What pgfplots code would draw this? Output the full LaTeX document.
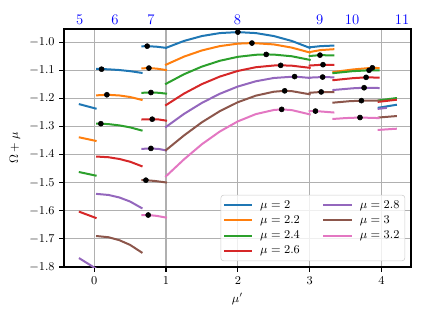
\documentclass[border=0pt]{standalone}
\usepackage{pgfplots}
\pgfplotsset{compat=1.18}
\definecolor{c0}{HTML}{1F77B4}
\definecolor{c1}{HTML}{FF7F0E}
\definecolor{c2}{HTML}{2CA02C}
\definecolor{c3}{HTML}{D62728}
\definecolor{c4}{HTML}{9467BD}
\definecolor{c5}{HTML}{8C564B}
\definecolor{c6}{HTML}{E377C2}
\definecolor{gridc}{HTML}{B0B0B0}
\tikzset{toplab/.style={text=blue, anchor=base, font=\fontsize{11}{13}\selectfont, inner sep=0pt, yshift=3.75pt}}
\begin{document}
\begin{tikzpicture}
\path (-48pt,-39pt) rectangle (270.75pt,200.25pt);
\begin{axis}[
  at={(0pt,0pt)}, anchor=south west,
  scale only axis, width=260.25pt, height=178.5pt,
  xmin=-0.42, xmax=4.41, ymin=-1.8, ymax=-0.953,
  xtick={0,1,2,3,4},
  ytick={-1.8,-1.7,-1.6,-1.5,-1.4,-1.3,-1.2,-1.1,-1.0},
  grid=major, grid style={line width=0.8pt, draw=gridc},
  axis line style={line width=0.8pt},
  tick align=outside, tick pos=left,
  major tick length=3.5pt, every tick/.style={black, line width=0.8pt},
  ticklabel style={font=\small},
  yticklabel style={/pgf/number format/.cd, fixed, fixed zerofill, precision=1},
  xlabel={$\mu'$}, ylabel={$\Omega+\mu$}, label style={font=\small},
  clip mode=individual,
  legend columns=2, legend cell align=left,
  legend style={at={(rel axis cs:0.983,0.025)}, anchor=south east, font=\small,
    draw=black!20, rounded corners=2pt, fill=white, fill opacity=0.8, text opacity=1,
    column sep=4pt, row sep=0pt, inner sep=2pt,
    /tikz/every even column/.append style={column sep=15.5pt}},
  legend image code/.code={\draw[#1, line width=1.5pt] (0pt,0pt) -- (20pt,0pt);},
  every axis plot/.append style={line width=1.5pt, line cap=rect, line join=round},
]
% ---------- mu = 2 (blue)
\addplot[c0, forget plot] coordinates {(-0.2,-1.221) (0.02,-1.236)};
\addplot[c0, forget plot] coordinates {(0.04,-1.095) (0.1,-1.0955) (0.2,-1.0965) (0.35,-1.099) (0.5,-1.103) (0.66,-1.109)};
\addplot[c0, forget plot] coordinates {(0.67,-1.0145) (0.74,-1.014) (0.87,-1.016) (1.0,-1.020)};
\addplot[c0, forget plot] coordinates {(1,-1.020) (1.25,-0.9955) (1.5,-0.978) (1.75,-0.9675) (2,-0.964) (2.25,-0.9675) (2.5,-0.978) (2.75,-0.9955) (3,-1.020)};
\addplot[c0, forget plot] coordinates {(3,-1.018) (3.15,-1.014) (3.33,-1.012)};
\addplot[c0, forget plot] coordinates {(3.96,-1.233) (4.2,-1.223)};
% ---------- mu = 2.2 (orange)
\addplot[c1, forget plot] coordinates {(-0.2,-1.339) (0.02,-1.351)};
\addplot[c1, forget plot] coordinates {(0.04,-1.189) (0.18,-1.187) (0.35,-1.1895) (0.5,-1.195) (0.66,-1.205)};
\addplot[c1, forget plot] coordinates {(0.67,-1.093) (0.762,-1.092) (0.87,-1.094) (1,-1.099)};
\addplot[c1, forget plot] coordinates {(1,-1.080) (1.25,-1.0513) (1.5,-1.0292) (1.75,-1.0138) (2,-1.0051) (2.2,-1.003) (2.5,-1.0078) (2.75,-1.0192) (3,-1.0365)};
\addplot[c1, forget plot] coordinates {(3,-1.035) (3.15,-1.028) (3.33,-1.025)};
\addplot[c1, forget plot] coordinates {(3.33,-1.106) (3.6,-1.097) (3.872,-1.091) (3.96,-1.092)};
% ---------- mu = 2.4 (green)
\addplot[c2, forget plot] coordinates {(-0.2,-1.4626) (0.02,-1.4746)};
\addplot[c2, forget plot] coordinates {(0.04,-1.290) (0.093,-1.290) (0.2,-1.2915) (0.35,-1.296) (0.5,-1.303) (0.66,-1.314)};
\addplot[c2, forget plot] coordinates {(0.67,-1.180) (0.79,-1.179) (0.9,-1.180) (1,-1.183)};
\addplot[c2, forget plot] coordinates {(1,-1.148) (1.25,-1.114) (1.5,-1.0867) (1.75,-1.066) (2,-1.052) (2.25,-1.0447) (2.4,-1.0435) (2.5,-1.044) (2.75,-1.050) (3,-1.0627)};
\addplot[c2, forget plot] coordinates {(3,-1.049) (3.143,-1.046) (3.33,-1.047)};
\addplot[c2, forget plot] coordinates {(3.33,-1.110) (3.6,-1.103) (3.826,-1.100) (3.96,-1.100)};
\addplot[c2, forget plot] coordinates {(3.96,-1.207) (4.2,-1.199)};
% ---------- mu = 2.6 (red)
\addplot[c3, forget plot] coordinates {(-0.2,-1.604) (0.02,-1.625)};
\addplot[c3, forget plot] coordinates {(0.04,-1.407) (0.2,-1.4094) (0.35,-1.4155) (0.5,-1.4253) (0.66,-1.441)};
\addplot[c3, forget plot] coordinates {(0.67,-1.275) (0.808,-1.274) (0.9,-1.275) (1,-1.279)};
\addplot[c3, forget plot] coordinates {(1,-1.2237) (1.25,-1.1829) (1.5,-1.149) (1.75,-1.1222) (2,-1.1022) (2.25,-1.089) (2.5,-1.0829) (2.6,-1.0823) (2.75,-1.0835) (3,-1.0911)};
\addplot[c3, forget plot] coordinates {(3,-1.083) (3.185,-1.080) (3.33,-1.081)};
\addplot[c3, forget plot] coordinates {(3.33,-1.135) (3.6,-1.128) (3.785,-1.125) (3.96,-1.126)};
\addplot[c3, forget plot] coordinates {(3.96,-1.212) (4.2,-1.205)};
% ---------- mu = 2.8 (purple)
\addplot[c4, forget plot] coordinates {(-0.2,-1.770) (0.02,-1.805)};
\addplot[c4, forget plot] coordinates {(0.04,-1.540) (0.2,-1.5436) (0.35,-1.5525) (0.5,-1.567) (0.66,-1.590)};
\addplot[c4, forget plot] coordinates {(0.67,-1.3795) (0.79,-1.378) (0.9,-1.380) (1,-1.385)};
\addplot[c4, forget plot] coordinates {(1,-1.3014) (1.25,-1.2552) (1.5,-1.2158) (1.75,-1.1833) (2,-1.1577) (2.25,-1.139) (2.5,-1.1273) (2.79,-1.1223) (3,-1.127)};
\addplot[c4, forget plot] coordinates {(3,-1.126) (3.18,-1.124) (3.33,-1.125)};
\addplot[c4, forget plot] coordinates {(3.33,-1.170) (3.6,-1.164) (3.757,-1.162) (3.96,-1.163)};
\addplot[c4, forget plot] coordinates {(3.96,-1.237) (4.06,-1.234)};
% ---------- mu = 3 (brown)
\addplot[c5, forget plot] coordinates {(0.04,-1.690) (0.2,-1.6941) (0.35,-1.7045) (0.5,-1.7213) (0.66,-1.748)};
\addplot[c5, forget plot] coordinates {(0.67,-1.491) (0.72,-1.491) (0.85,-1.494) (1,-1.499)};
\addplot[c5, forget plot] coordinates {(1,-1.384) (1.25,-1.3319) (1.5,-1.2848) (1.75,-1.2452) (2,-1.2135) (2.25,-1.1902) (2.5,-1.1762) (2.652,-1.173) (2.75,-1.1741) (3,-1.1853)};
\addplot[c5, forget plot] coordinates {(3,-1.180) (3.16,-1.177) (3.33,-1.178)};
\addplot[c5, forget plot] coordinates {(3.33,-1.215) (3.55,-1.210) (3.72,-1.208) (3.96,-1.208)};
\addplot[c5, forget plot] coordinates {(3.96,-1.268) (4.2,-1.263)};
% ---------- mu = 3.2 (pink)
\addplot[c6, forget plot] coordinates {(0.67,-1.615) (0.752,-1.615) (0.87,-1.618) (1,-1.624)};
\addplot[c6, forget plot] coordinates {(1,-1.477) (1.25,-1.417) (1.5,-1.3629) (1.75,-1.3176) (2,-1.2817) (2.25,-1.2559) (2.5,-1.2412) (2.61,-1.239) (2.75,-1.2416) (3,-1.2567)};
\addplot[c6, forget plot] coordinates {(3,-1.245) (3.08,-1.245) (3.33,-1.250)};
\addplot[c6, forget plot] coordinates {(3.33,-1.273) (3.5,-1.270) (3.70,-1.268) (3.96,-1.270)};
\addplot[c6, forget plot] coordinates {(3.96,-1.312) (4.2,-1.308)};
% ---------- optimum markers
\addplot[only marks, mark=*, mark size=1.9pt, black, line width=0.4pt, forget plot] coordinates {
(0.103,-1.096) (0.177,-1.187) (0.093,-1.290)
(0.738,-1.014) (0.762,-1.092) (0.79,-1.179) (0.808,-1.274) (0.79,-1.378) (0.72,-1.491) (0.752,-1.615)
(2.0,-0.964) (2.196,-1.003) (2.395,-1.0435) (2.596,-1.0823) (2.79,-1.1223) (2.652,-1.173) (2.61,-1.239)
(3.143,-1.046) (3.185,-1.080) (3.18,-1.124) (3.16,-1.177) (3.08,-1.245)
(3.872,-1.091) (3.826,-1.100) (3.785,-1.125) (3.757,-1.162) (3.72,-1.208) (3.70,-1.268)
};
% ---------- legend (column-wise order)
\addlegendimage{c0}\addlegendentry{$\mu=2$}
\addlegendimage{c4}\addlegendentry{$\mu=2.8$}
\addlegendimage{c1}\addlegendentry{$\mu=2.2$}
\addlegendimage{c5}\addlegendentry{$\mu=3$}
\addlegendimage{c2}\addlegendentry{$\mu=2.4$}
\addlegendimage{c6}\addlegendentry{$\mu=3.2$}
\addlegendimage{c3}\addlegendentry{$\mu=2.6$}
% ---------- top labels
\node[toplab] at (axis cs:-0.2,-0.953) {5};
\node[toplab] at (axis cs:0.29,-0.953) {6};
\node[toplab] at (axis cs:0.79,-0.953) {7};
\node[toplab] at (axis cs:1.995,-0.953) {8};
\node[toplab] at (axis cs:3.14,-0.953) {9};
\node[toplab] at (axis cs:3.59,-0.953) {10};
\node[toplab] at (axis cs:4.285,-0.953) {11};
\end{axis}
\end{tikzpicture}
\end{document}
